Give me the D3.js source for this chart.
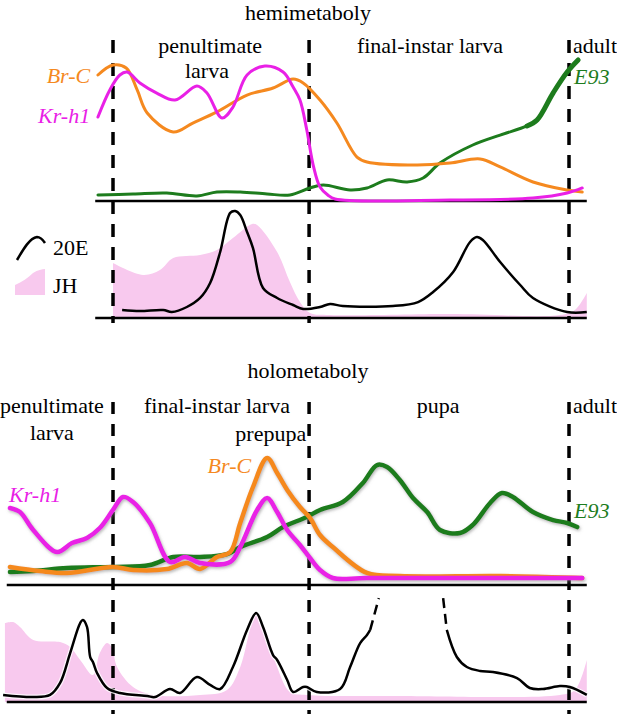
<!DOCTYPE html>
<html>
<head>
<meta charset="utf-8">
<script src="https://cdn.jsdelivr.net/npm/d3@7"></script>
<style>
html,body{margin:0;padding:0;background:#fff;}
svg{display:block;}
text{font-family:"Liberation Serif","Times New Roman",serif;}
</style>
</head>
<body>
<svg id="chart" width="617" height="714"></svg>
<script>
// ---- DATA (time: % of final-instar development axis; values: relative level 0..1) ----
const stageBounds = [0, 43, 100];

// Hemimetaboly – gene expression
const hemiBrC = [[-3.3,0.9],[0,0.971],[2.9,0.95],[5.3,0.793],[7.5,0.629],[13.2,0.493],[17.5,0.557],[22.8,0.636],[29.4,0.757],[35.1,0.807],[39.5,0.871],[41.7,0.843],[45.4,0.721],[49.1,0.557],[53.5,0.314],[55.7,0.279],[66.7,0.257],[73.9,0.271],[80.5,0.3],[84.9,0.243],[92.1,0.136],[99.6,0.079],[102.9,0.064]];
const hemiKrh1 = [[-3.3,0.6],[-0.7,0.793],[1.5,0.9],[3.1,0.921],[5.9,0.843],[9.6,0.771],[13.6,0.721],[18.4,0.821],[20.6,0.771],[23.9,0.593],[26.3,0.671],[29.4,0.9],[33.3,0.964],[37.3,0.921],[39.5,0.814],[41.0,0.721],[42.5,0.507],[43.9,0.257],[45.4,0.1],[47.1,0.043],[48.7,0.014],[73.9,0.007],[92.1,0.021],[99.6,0.057],[102.9,0.093]];
const hemiE93 = [[-3.3,0.043],[4.4,0.05],[11.8,0.057],[18.4,0.036],[22.8,0.064],[27.9,0.064],[33.8,0.05],[38.8,0.043],[43.2,0.093],[46.1,0.114],[52.0,0.079],[55.7,0.093],[60.1,0.15],[64.5,0.136],[68.0,0.164],[71.7,0.271],[78.9,0.4],[84.9,0.471],[90.8,0.536],[93.0,0.579],[96.5,0.771],[99.6,0.921],[102.0,1.007]];
// Hemimetaboly – hormones
const hemi20E = [[2.0,0.073],[5.9,0.064],[11.0,0.073],[12.9,0.055],[16.2,0.1],[19.1,0.182],[21.3,0.318],[23.5,0.6],[25.7,0.955],[26.8,0.973],[27.9,0.936],[29.4,0.782],[30.7,0.636],[32.9,0.273],[36.0,0.182],[39.5,0.118],[41.7,0.082],[45.4,0.1],[47.6,0.127],[50.4,0.109],[61.4,0.109],[66.9,0.145],[70.2,0.236],[74.6,0.418],[78.3,0.691],[79.8,0.736],[81.1,0.709],[84.9,0.509],[89.3,0.3],[92.1,0.182],[99.6,0.055],[103.9,0.055]];
const hemiJH = [[0,0.5],[6.6,0.391],[10.3,0.436],[13.2,0.545],[19.1,0.573],[22.8,0.618],[26.3,0.727],[30.5,0.855],[31.6,0.845],[36.0,0.6],[38.8,0.327],[41.0,0.145],[43.2,0.045],[47.6,0.027],[73.9,0.036],[98.0,0.027],[101.3,0.073],[103.9,0.227]];

// Holometaboly – gene expression
const holoBrC = [[-22.6,0.129],[-16.0,0.1],[-10.1,0.086],[0,0.129],[4.4,0.107],[11.8,0.114],[16.2,0.157],[19.1,0.114],[22.8,0.2],[25.7,0.236],[27.9,0.443],[30.7,0.7],[33.8,0.907],[36.0,0.8],[38.2,0.679],[41.0,0.557],[43.2,0.479],[45.4,0.357],[48.2,0.271],[55.7,0.086],[62.9,0.064],[84.9,0.064],[102.9,0.05]];
const holoKrh1 = [[-22.6,0.55],[-20.4,0.521],[-17.5,0.393],[-12.3,0.236],[-9.0,0.3],[-5.7,0.336],[-2.9,0.407],[0,0.536],[2.2,0.629],[4.4,0.593],[8.1,0.443],[12.5,0.164],[15.8,0.2],[19.1,0.157],[25.7,0.164],[27.9,0.271],[31.6,0.536],[33.8,0.621],[36.0,0.521],[38.2,0.393],[41.0,0.286],[43.2,0.193],[45.4,0.107],[48.2,0.05],[55.7,0.05],[102.9,0.05]];
const holoE93 = [[-22.6,0.093],[-17.5,0.1],[-10.1,0.121],[0,0.129],[8.1,0.143],[13.2,0.2],[19.1,0.2],[25.0,0.221],[27.9,0.271],[33.8,0.343],[37.3,0.414],[42.5,0.486],[45.4,0.536],[50.4,0.593],[54.8,0.729],[57.9,0.857],[60.1,0.843],[62.9,0.75],[65.8,0.621],[68.9,0.521],[71.7,0.393],[76.1,0.371],[78.9,0.429],[82.7,0.586],[85.3,0.657],[87.7,0.629],[92.1,0.521],[96.5,0.464],[99.6,0.443],[101.8,0.414]];
// Holometaboly – hormones
const holo20E_a = [[-24.1,0.064],[-17.5,0.045],[-13.8,0.064],[-11.6,0.173],[-9.4,0.445],[-7.2,0.718],[-6.6,0.745],[-5.7,0.682],[-5.0,0.409],[-4.4,0.364],[-3.5,0.264],[-1.3,0.127],[1.5,0.082],[7.5,0.055],[9.2,0.045],[12.5,0.118],[14.7,0.082],[18.4,0.227],[21.3,0.155],[23.5,0.118],[26.3,0.318],[29.4,0.655],[31.4,0.809],[32.9,0.682],[35.1,0.427],[36.0,0.382],[38.2,0.2],[39.5,0.091],[41.7,0.136],[42.5,0.136],[44.7,0.091],[49.8,0.118],[52.0,0.318],[54.2,0.536],[55.7,0.609],[56.4,0.655]];
const holo20E_upDashed = [[56.4,0.655],[58.3,0.945]];
const holo20E_downDashed = [[72.4,0.945],[73.2,0.655]];
const holo20E_b = [[73.2,0.655],[75.4,0.409],[77.6,0.318],[80.5,0.282],[83.3,0.273],[88.6,0.218],[91.4,0.127],[94.3,0.118],[98.0,0.145],[100.2,0.136],[103.9,0.064]];
const holoJH = [[-23.7,0.718],[-21.9,0.727],[-20.4,0.682],[-17.5,0.564],[-11.6,0.545],[-9.4,0.5],[-7.2,0.382],[-4.4,0.245],[-2.9,0.445],[-1.3,0.536],[-0.2,0.491],[0.9,0.318],[4.4,0.136],[8.8,0.064],[19.1,0.064],[25.0,0.109],[27.9,0.318],[31.4,0.791],[33.8,0.627],[36.0,0.318],[38.8,0.091],[42.5,0.064],[62.9,0.055],[98.0,0.064],[101.3,0.109],[103.9,0.382]];

// Text
const titles = ["hemimetaboly", "holometaboly"];
const seriesNames = ["Br-C", "Kr-h1", "E93", "20E", "JH"];

// ---- STYLE ----
const C = {brc:"#f5891f", krh1:"#e920e6", e93:"#1d7c1d", jh:"#f8c9ee", black:"#000"};
const FONT = 22;

const svg = d3.select("#chart");
svg.append("rect").attr("width",617).attr("height",714).attr("fill","#fff");

const defs = svg.append("defs");
const f = defs.append("filter").attr("id","shadow").attr("x","-10%").attr("y","-30%").attr("width","120%").attr("height","160%");
f.append("feDropShadow").attr("dx",1).attr("dy",1.5).attr("stdDeviation",1.6).attr("flood-color","#777").attr("flood-opacity",0.55);

const x = d3.scaleLinear().domain([0,100]).range([113,569]);
const yHemiG = d3.scaleLinear().domain([0,1]).range([201,61]);
const yHemiH = d3.scaleLinear().domain([0,1]).range([318,208]);
const yHoloG = d3.scaleLinear().domain([0,1]).range([585,445]);
const yHoloH = d3.scaleLinear().domain([0,1]).range([702,592]);

const curve = d3.curveCatmullRom.alpha(0.5);
const lineFor = y => d3.line().x(d=>x(d[0])).y(d=>y(d[1])).curve(curve);
const areaFor = y => d3.area().x(d=>x(d[0])).y0(y(0)).y1(d=>y(d[1])).curve(curve);

function txt(g, s, px, py, opts={}) {
  return g.append("text").attr("x",px).attr("y",py)
    .attr("font-size", opts.size||FONT)
    .attr("text-anchor", opts.anchor||"middle")
    .attr("font-style", opts.italic?"italic":"normal")
    .attr("fill", opts.fill||"#000").text(s);
}

// ===== HEMIMETABOLY =====
const gh = svg.append("g");
txt(gh, titles[0], 308, 20, {size:22});
// JH area
gh.append("path").datum(hemiJH).attr("d", areaFor(yHemiH)).attr("fill", C.jh);
// axes lines
[yHemiG(0), yHemiH(0)].forEach(yy=>{
  gh.append("line").attr("x1",x(-3.9)).attr("x2",x(103.9)).attr("y1",yy).attr("y2",yy)
    .attr("stroke","#000").attr("stroke-width",2.5);
});
// dashed stage boundaries
stageBounds.forEach(t=>{
  gh.append("line").attr("x1",x(t)).attr("x2",x(t)).attr("y1",40).attr("y2",323)
    .attr("stroke","#000").attr("stroke-width",3.5).attr("stroke-dasharray","13,10");
});
// 20E
gh.append("path").datum(hemi20E).attr("d", lineFor(yHemiH)).attr("fill","none").attr("stroke","#000").attr("stroke-width",2.5).attr("stroke-linejoin","round");
// genes
gh.append("path").datum(hemiE93).attr("d", lineFor(yHemiG)).attr("fill","none").attr("stroke",C.e93).attr("stroke-width",3).attr("stroke-linecap","round");
gh.append("path").datum(hemiE93.slice(-5)).attr("d", lineFor(yHemiG)).attr("fill","none").attr("stroke",C.e93).attr("stroke-width",5).attr("stroke-linecap","round");
gh.append("path").datum(hemiBrC).attr("d", lineFor(yHemiG)).attr("fill","none").attr("stroke",C.brc).attr("stroke-width",3).attr("stroke-linecap","round");
gh.append("path").datum(hemiKrh1).attr("d", lineFor(yHemiG)).attr("fill","none").attr("stroke",C.krh1).attr("stroke-width",3).attr("stroke-linecap","round");
// labels
txt(gh, "penultimate", x(21.3), 53);
txt(gh, "larva", x(20.6), 78);
txt(gh, "final-instar larva", x(69.5), 53);
txt(gh, "adult", x(100.9), 53, {anchor:"start"});
txt(gh, seriesNames[0], x(-5.0), 83, {anchor:"end", italic:true, fill:C.brc});
txt(gh, seriesNames[1], x(-5.0), 123, {anchor:"end", italic:true, fill:C.krh1});
txt(gh, seriesNames[2], x(101.1), 84, {anchor:"start", italic:true, fill:C.e93});
// legend
const lg = svg.append("g");
lg.append("path").attr("d","M17,260 C24,248 30,238 37,237 C41,237 43,240 45,243")
  .attr("fill","none").attr("stroke","#000").attr("stroke-width",2.5);
txt(lg, seriesNames[3], 53, 255, {anchor:"start"});
lg.append("path").attr("d","M15,295 L15,285 C22,282 28,278 33,273 C38,270 42,269 45,269 L45,295 Z").attr("fill",C.jh);
txt(lg, seriesNames[4], 53, 293, {anchor:"start"});

// ===== HOLOMETABOLY =====
const go = svg.append("g");
txt(go, titles[1], 308, 378, {size:22});
go.append("path").datum(holoJH).attr("d", areaFor(yHoloH)).attr("fill", C.jh);
[yHoloG(0), yHoloH(0)].forEach(yy=>{
  go.append("line").attr("x1",x(-23.3)).attr("x2",x(103.9)).attr("y1",yy).attr("y2",yy)
    .attr("stroke","#000").attr("stroke-width",2.5);
});
stageBounds.forEach(t=>{
  go.append("line").attr("x1",x(t)).attr("x2",x(t)).attr("y1",402).attr("y2",714)
    .attr("stroke","#000").attr("stroke-width",3.5).attr("stroke-dasharray","12,10");
});
// 20E
const l20 = lineFor(yHoloH);
[holo20E_a, holo20E_b].forEach(d=>{
  go.append("path").datum(d).attr("d", l20).attr("fill","none").attr("stroke","#fff").attr("stroke-width",5).attr("opacity",0.8);
  go.append("path").datum(d).attr("d", l20).attr("fill","none").attr("stroke","#000").attr("stroke-width",2.5).attr("stroke-linejoin","round");
});
[holo20E_upDashed, holo20E_downDashed].forEach(d=>{
  go.append("path").datum(d).attr("d", d3.line().x(p=>x(p[0])).y(p=>yHoloH(p[1]))).attr("fill","none")
    .attr("stroke","#000").attr("stroke-width",2.5).attr("stroke-dasharray","10,6");
});
// genes with shadow
const gl = go.append("g").attr("filter","url(#shadow)");
gl.append("path").datum(holoE93).attr("d", lineFor(yHoloG)).attr("fill","none").attr("stroke",C.e93).attr("stroke-width",4.5).attr("stroke-linecap","round");
gl.append("path").datum(holoBrC).attr("d", lineFor(yHoloG)).attr("fill","none").attr("stroke",C.brc).attr("stroke-width",4.5).attr("stroke-linecap","round");
gl.append("path").datum(holoKrh1).attr("d", lineFor(yHoloG)).attr("fill","none").attr("stroke",C.krh1).attr("stroke-width",4.5).attr("stroke-linecap","round");
// labels
txt(go, "penultimate", x(-13.4), 413);
txt(go, "larva", x(-13.4), 440);
txt(go, "final-instar larva", x(22.8), 413);
txt(go, "prepupa", x(34.6), 441);
txt(go, "pupa", x(71.3), 413);
txt(go, "adult", x(100.9), 413, {anchor:"start"});
txt(go, seriesNames[0], x(30.3), 473, {anchor:"end", italic:true, fill:C.brc});
txt(go, seriesNames[1], x(-22.8), 502, {anchor:"start", italic:true, fill:C.krh1});
txt(go, seriesNames[2], x(101.1), 518, {anchor:"start", italic:true, fill:C.e93});
</script>
</body>
</html>
